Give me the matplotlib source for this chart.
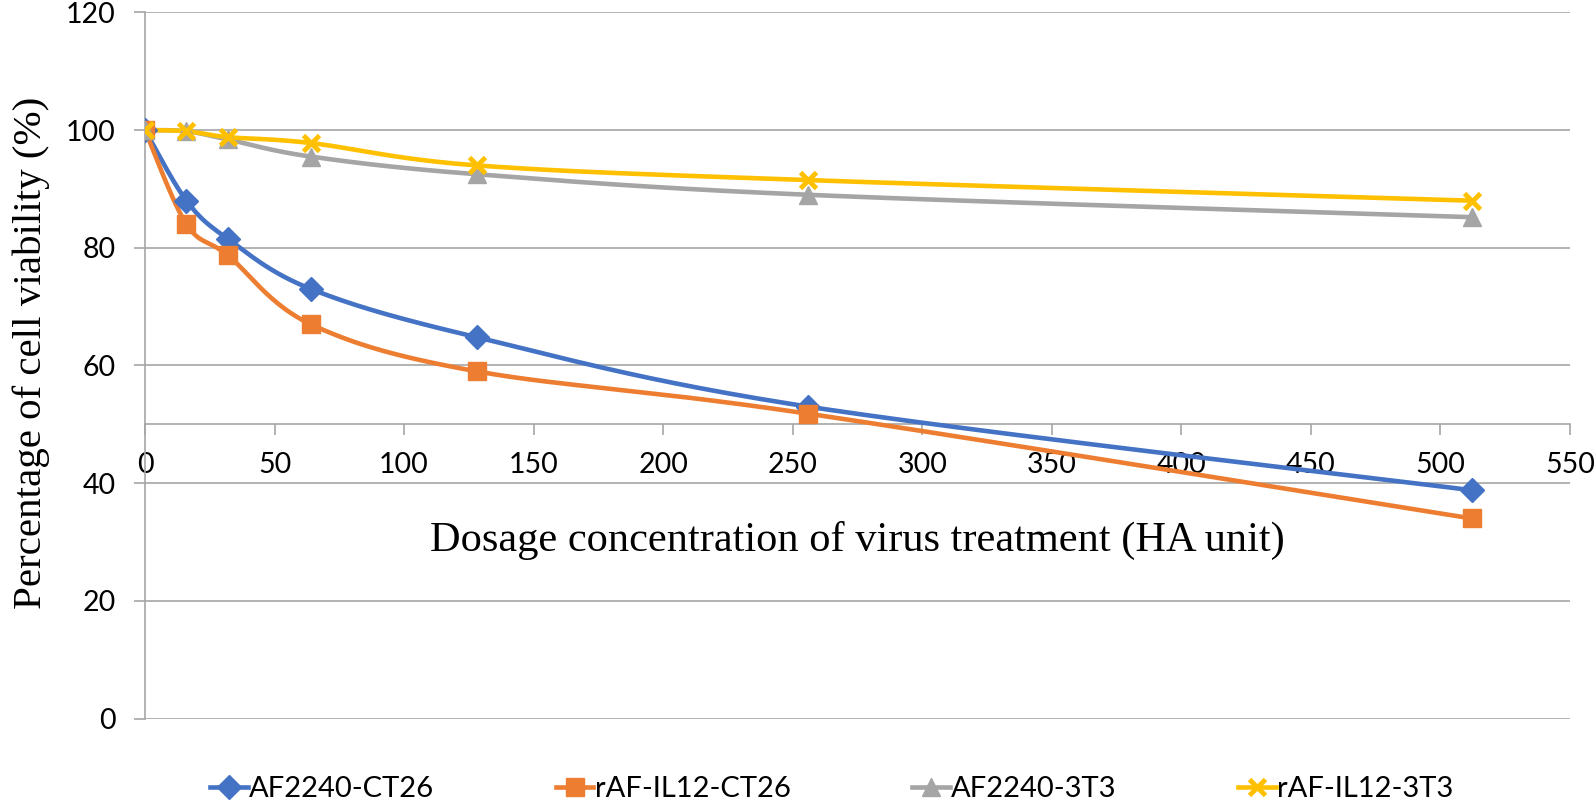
import numpy as np
import matplotlib
matplotlib.use("Agg")
import matplotlib.pyplot as plt

# dose (HA unit) and viability (%)
dose = [0, 16, 32, 64, 128, 256, 512]
af2240_ct26 = [100, 88.0, 81.5, 73.0, 64.8, 53.0, 38.8]
raf_il12_ct26 = [100, 84.0, 78.7, 67.0, 59.0, 51.8, 34.0]
af2240_3t3 = [100, 99.8, 98.4, 95.5, 92.5, 89.0, 85.2]
raf_il12_3t3 = [100, 99.8, 98.8, 97.8, 94.0, 91.5, 88.0]

series_names = ["AF2240-CT26", "rAF-IL12-CT26", "AF2240-3T3", "rAF-IL12-3T3"]
colors = ["#4472C4", "#ED7D31", "#A5A5A5", "#FFC000"]
markers = ["D", "s", "^", "x"]


def smooth(x, y, n=30):
    # Excel-like smoothed line: cubic Bezier through the points
    p = np.column_stack([x, y]).astype(float)
    ext = np.vstack([p[0], p, p[-1]])
    out = []
    t = np.linspace(0, 1, n)[:, None]
    for i in range(len(p) - 1):
        p0, p1 = ext[i + 1], ext[i + 2]
        c1 = p0 + (ext[i + 2] - ext[i]) / 6
        c2 = p1 - (ext[i + 3] - ext[i + 1]) / 6
        seg = ((1 - t) ** 3) * p0 + 3 * ((1 - t) ** 2) * t * c1 + 3 * (1 - t) * t ** 2 * c2 + t ** 3 * p1
        out.append(seg if i == 0 else seg[1:])
    out = np.vstack(out)
    return out[:, 0], out[:, 1]


fig = plt.figure(figsize=(15.95, 8), dpi=100)
ax = fig.add_axes([145 / 1595, 1 - 718.5 / 800, (1570 - 145) / 1595, (718.5 - 12.4) / 800])

grid_col = "#A6A6A6"
all_series = [af2240_ct26, raf_il12_ct26, af2240_3t3, raf_il12_3t3]
handles = []
for vals, name, c, m in zip(all_series, series_names, colors, markers):
    sx, sy = smooth(dose, vals)
    ax.plot(sx, sy, color=c, lw=3.3, zorder=3, solid_capstyle="round")
    if m == "x":
        ax.plot(dose, vals, ls="none", marker=m, ms=12, mew=3.5, color=c, zorder=4)
        h, = ax.plot([], [], color=c, lw=3.3, marker=m, ms=12, mew=3.5)
    else:
        ms = 12 if m == "D" else 13.5
        ax.plot(dose, vals, ls="none", marker=m, ms=ms, color=c, mec=c, zorder=4)
        h, = ax.plot([], [], color=c, lw=3.3, marker=m, ms=ms, mec=c)
    handles.append(h)

ax.set_xlim(0, 550)
ax.set_ylim(0, 120)
ax.set_xticks(np.arange(0, 551, 50))
ax.set_yticks(np.arange(0, 121, 20))
ax.yaxis.grid(True, color=grid_col, lw=1.2)
ax.set_axisbelow(True)

for s in ["top", "right"]:
    ax.spines[s].set_visible(False)
ax.spines["left"].set_color(grid_col)
ax.spines["left"].set_linewidth(1.2)
ax.spines["bottom"].set_position(("data", 50))
ax.spines["bottom"].set_color(grid_col)
ax.spines["bottom"].set_linewidth(1.2)

ax.tick_params(axis="x", direction="out", length=8, width=1.2, color=grid_col,
               labelsize=20.5, pad=12)
ax.tick_params(axis="y", direction="out", length=8, width=1.2, color=grid_col,
               labelsize=20.5, pad=13)
for lab in ax.get_xticklabels() + ax.get_yticklabels():
    lab.set_fontfamily("Lato")

fig.text(857 / 1595, 1 - 540 / 800, "Dosage concentration of virus treatment (HA unit)",
         family="Liberation Serif", fontsize=30.5, ha="center", va="center")
fig.text(31 / 1595, 1 - 353 / 800, "Percentage of cell viability (%)",
         family="Liberation Serif", fontsize=29.5, ha="center", va="center", rotation=90)

fig.legend(handles, series_names, loc="center left", bbox_to_anchor=(210 / 1595, 1 - 789 / 800),
           ncol=4, frameon=False, handlelength=1.3, handletextpad=0.05, columnspacing=4.15,
           borderpad=0, borderaxespad=0, prop={"family": "Lato", "size": 21})

fig.savefig("out.png", dpi=100)
